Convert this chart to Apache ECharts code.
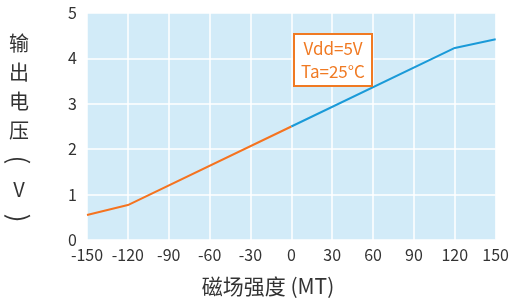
<!DOCTYPE html>
<html><head><meta charset="utf-8">
<script src="https://cdn.jsdelivr.net/npm/echarts@6/dist/echarts.min.js"></script>
<style>html,body{margin:0;padding:0;background:#fff}#c{width:512px;height:301px}</style>
</head><body><div id="c"></div>
<script>
const xTicks = [-150, -120, -90, -60, -30, 0, 30, 60, 90, 120, 150];
const yTicks = [0, 1, 2, 3, 4, 5];
const negField = [-150, -120, 0];
const negVolt = [0.55, 0.77, 2.5];
const posField = [0, 120, 150];
const posVolt = [2.5, 4.23, 4.42];
const xName = '磁场强度 (MT)';
const yName = ['输', '出', '电', '压', '(', 'V', ')'];
const note = ['Vdd=5V', 'Ta=25°C'];

const font = '"Noto Sans CJK SC", "Noto Sans", sans-serif';
const chart = echarts.init(document.getElementById('c'));
const yNameGraphics = yName.map((ch, i) => {
  const rotate = (ch === '(' || ch === ')');
  return {
    type: 'group', x: 19, y: 43 + i * 29.2, z: 100,
    rotation: rotate ? -Math.PI / 2 : 0,
    children: [{
      type: 'text', x: 0, y: 0, z: 100,
      style: { text: ch, font: (rotate ? '26px ' : '20px ') + font, fill: '#333', align: 'center', verticalAlign: 'middle' }
    }]
  };
});
chart.setOption({
  animation: false,
  textStyle: { fontFamily: font },
  grid: { left: 87, right: 16, top: 13, bottom: 61, show: true, backgroundColor: '#d2ebf8', borderWidth: 0 },
  xAxis: {
    type: 'value', min: -150, max: 150, interval: 30,
    axisLine: { show: false }, axisTick: { show: false },
    splitLine: { show: true, lineStyle: { color: '#ffffff', width: 1.5 } },
    axisLabel: { color: '#333', fontSize: 16, margin: 7, fontFamily: font, showMinLabel: true, showMaxLabel: true }
  },
  yAxis: {
    type: 'value', min: 0, max: 5, interval: 1,
    axisLine: { show: false }, axisTick: { show: false },
    splitLine: { show: true, lineStyle: { color: '#ffffff', width: 1.5 } },
    axisLabel: { color: '#333', fontSize: 16, margin: 10, fontFamily: font }
  },
  graphic: yNameGraphics.concat([
    {
      type: 'text', x: 268, y: 286, z: 100,
      style: { text: xName, font: '21px ' + font, fill: '#333', align: 'center', verticalAlign: 'middle' }
    },
    {
      type: 'group', left: 293, top: 33, z: 100,
      children: [
        { type: 'rect', z: 100, shape: { x: 0, y: 0, width: 78, height: 52 }, style: { fill: '#fff', stroke: '#f07a23', lineWidth: 2 } },
        { type: 'text', z: 101, x: 39, y: 26, style: { text: note.join('\n'), font: '17px ' + font, fill: '#f07a23', lineHeight: 23, align: 'center', verticalAlign: 'middle' } }
      ]
    }
  ]),
  series: [
    { type: 'line', data: negField.map((x, i) => [x, negVolt[i]]), showSymbol: false, lineStyle: { color: '#f5731f', width: 2 }, itemStyle: { color: '#f5731f' } },
    { type: 'line', data: posField.map((x, i) => [x, posVolt[i]]), showSymbol: false, lineStyle: { color: '#1a9ad8', width: 2 }, itemStyle: { color: '#1a9ad8' } }
  ]
});
</script></body></html>
